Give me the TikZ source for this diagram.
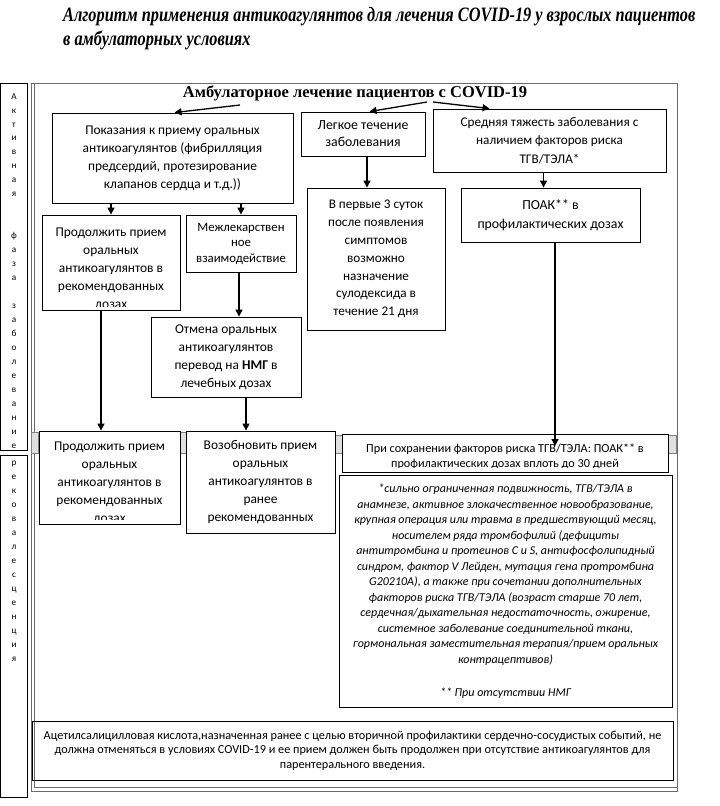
\documentclass[tikz,border=0pt]{standalone}
\usepackage{fontspec}
\setmainfont{Carlito}
\newfontfamily\serifrm{Liberation Serif}
\newfontfamily\titlerm[FakeStretch=0.8]{Liberation Serif}
\usetikzlibrary{arrows.meta}
\newcommand\fA{\fontsize{13.4}{18}\selectfont}
\newcommand\fS{\fontsize{12.8}{15.5}\selectfont}
\begin{document}
\begin{tikzpicture}[x=1pt,y=-1pt,
  box/.style={draw=black,line width=0.9pt,inner sep=0pt,align=center,font=\fA},
  txt/.style={inner sep=0pt,align=center},
  arr/.style={line width=1.3pt,-{Triangle[length=7pt,width=7pt]}},
  tabbox/.style={draw=gray,fill=gray!25,line width=0.6pt},
  outerframe/.style={draw=gray!85!black,line width=1pt},
  sidebar/.style={draw=black,line width=0.8pt,inner sep=0pt},
  letters/.style={inner sep=0pt,align=center,font=\fontsize{9.2}{13.96}\selectfont}
]
\useasboundingbox (0,0) rectangle (720,806);
\fill[white] (0,0) rectangle (720,806);

% title
\node[anchor=north west,inner sep=0pt,align=left,font=\titlerm\bfseries\itshape\fontsize{20.4}{24}\selectfont] (title) at (63,7)
 {Алгоритм применения антикоагулянтов для лечения COVID-19 у взрослых пациентов\\в амбулаторных условиях};

% outer frame
\draw[outerframe] (31,83) rectangle (677,791);
\draw[outerframe,line width=0.6pt] (34,83) -- (34,787) -- (677,787);

% side bars
\node[sidebar,minimum width=27,minimum height=367] (bar1) at (14,266.5) {};
\node[sidebar,minimum width=27,minimum height=342] (bar2) at (14,626) {};
\begin{scope}
\clip (1,83.5) rectangle (27.5,449.5);
\node[letters,anchor=north] (lt1) at (14,93) {А\\к\\т\\и\\в\\н\\а\\я\\ \\ \\ф\\а\\з\\а\\ \\з\\а\\б\\о\\л\\е\\в\\а\\н\\и\\е};
\end{scope}
\node[letters,anchor=north] (lt2) at (14,461) {р\\е\\к\\о\\в\\а\\л\\е\\с\\ц\\е\\н\\ц\\и\\я};

% row separator tabs
\draw[tabbox] (31.5,432) rectangle (38,453);
\draw[tabbox] (180,432) rectangle (186,453);
\draw[tabbox] (335,435) rectangle (342,453);
\draw[tabbox] (668,435) rectangle (676.5,453);

% heading
\node[inner sep=0pt,font=\serifrm\bfseries\fontsize{16.5}{20}\selectfont] (head) at (355,93) {Амбулаторное лечение пациентов с COVID-19};
\coordinate (t1) at (240,105);
\coordinate (t2) at (427,102);
\coordinate (t3) at (433,102);

% boxes
\node[box,minimum width=241,minimum height=90] (A) at (172.5,158)
 {Показания к приему оральных\\антикоагулянтов (фибрилляция\\предсердий, протезирование\\клапанов сердца и т.д.))};
\node[box,minimum width=124,minimum height=44,font=\fontsize{13.8}{17}\selectfont] (B) at (363,134)
 {Легкое течение\\заболевания};
\node[box,minimum width=233,minimum height=63,font=\fontsize{13.2}{18.5}\selectfont] (C) at (549.5,140.5)
 {Средняя тяжесть заболевания с\\наличием факторов риска\\ТГВ/ТЭЛА*};
\node[box,minimum width=138,minimum height=142,font=\fontsize{13.2}{17.8}\selectfont] (D) at (376,259)
 {В первые 3 суток\\после появления\\симптомов\\возможно\\назначение\\сулодексида в\\течение 21 дня};
\node[box,minimum width=179,minimum height=54,font=\fontsize{13.8}{18.5}\selectfont] (E) at (550.5,215)
 {ПОАК** в\\профилактических дозах};
\node[box,minimum width=138,minimum height=95,
  path picture={\clip ([yshift=4pt]path picture bounding box.south west) rectangle (path picture bounding box.north east);
   \node[txt,font=\fA] at ([yshift=-6.5pt]path picture bounding box.center)
   {Продолжить прием\\оральных\\антикоагулянтов в\\рекомендованных\\дозах};}] (F) at (111,262.5) {};
\node[box,minimum width=110,minimum height=57,font=\fS] (G) at (241,243.5)
 {Межлекарствен\\ное\\взаимодействие};
\node[box,minimum width=150,minimum height=80] (H) at (226,357)
 {Отмена оральных\\антикоагулянтов\\перевод на \textbf{НМГ} в\\лечебных дозах};
\node[box,minimum width=141,minimum height=93,
  path picture={\clip ([yshift=4.5pt]path picture bounding box.south west) rectangle (path picture bounding box.north east);
   \node[txt,font=\fA] at ([yshift=-5.5pt]path picture bounding box.center)
   {Продолжить прием\\оральных\\антикоагулянтов в\\рекомендованных\\дозах};}] (I) at (109.5,477.5) {};
\node[box,minimum width=149,minimum height=102] (J) at (260.5,482)
 {Возобновить прием\\оральных\\антикоагулянтов в\\ранее\\рекомендованных};
\node[box,minimum width=326,minimum height=38,
  path picture={\clip ([yshift=5pt]path picture bounding box.south west) rectangle (path picture bounding box.north east);
   \node[txt,font=\fontsize{12.25}{15}\selectfont] at ([yshift=-4pt]path picture bounding box.center)
   {При сохранении факторов риска ТГВ/ТЭЛА: ПОАК** в\\профилактических дозах вплоть до 30 дней};}] (K) at (505,453) {};
\node[box,minimum width=333,minimum height=232,font=\itshape\fontsize{12}{15.5}\selectfont] (L) at (505.5,591)
 {*сильно ограниченная подвижность, ТГВ/ТЭЛА в\\анамнезе, активное злокачественное новообразование,\\крупная операция или травма в предшествующий месяц,\\носителем ряда тромбофилий (дефициты\\антитромбина и протеинов С и S, антифосфолипидный\\синдром, фактор V Лейден, мутация гена протромбина\\G20210A), а также при сочетании дополнительных\\факторов риска ТГВ/ТЭЛА (возраст старше 70 лет,\\сердечная/дыхательная недостаточность, ожирение,\\системное заболевание соединительной ткани,\\гормональная заместительная терапия/прием оральных\\контрацептивов)\\[17.5pt]** При отсутствии НМГ};
\node[box,minimum width=641,minimum height=59,font=\fontsize{12.25}{14.5}\selectfont] (M) at (352.5,750.5)
 {Ацетилсалицилловая кислота,назначенная ранее с целью вторичной профилактики сердечно-сосудистых событий, не\\должна отменяться в условиях COVID-19 и ее прием должен быть продолжен при отсутствие антикоагулянтов для\\парентерального введения.};

% arrows
\draw[arr] (t1) -- ([xshift=123pt]A.north west);
\draw[arr] (t2) -- ([xshift=69pt]B.north west);
\draw[arr] (t3) -- ([xshift=57pt]C.north west);
\draw[arr] (A.south -| F.north) -- (F.north);
\draw[arr] (A.south -| G.north) -- (G.north);
\draw[arr] ([xshift=4pt]B.south) -- ([xshift=4pt]B.south |- D.north);
\draw[arr] ([xshift=-6pt]C.south) -- ([xshift=-6pt]C.south |- E.north);
\draw[arr] ([xshift=-2pt]G.south) -- ([xshift=-2pt]G.south |- H.north);
\draw[arr] ([xshift=-10pt]F.south) -- ([xshift=-10pt]F.south |- I.north);
\draw[arr] ([xshift=20pt]H.south) -- ([xshift=20pt]H.south |- J.north);
\coordinate (kin) at (555,446);
\draw[arr] (E.south -| kin) -- (kin);
\end{tikzpicture}
\end{document}
